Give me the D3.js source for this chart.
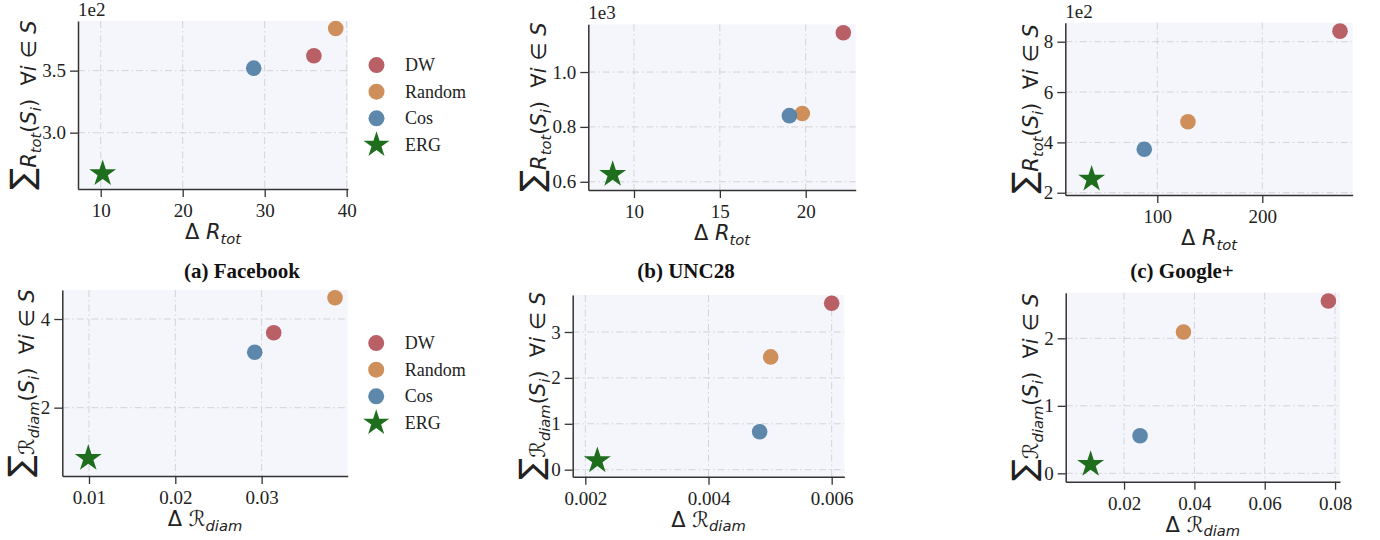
<!DOCTYPE html>
<html>
<head>
<meta charset="utf-8">
<script src="https://cdnjs.cloudflare.com/ajax/libs/d3/7.8.5/d3.min.js"></script>
<style>
  body { margin: 0; background: #fff; }
  svg { display: block; }
</style>
</head>
<body>
<script>
// methods and their colours
var methods = ["DW", "Random", "Cos", "ERG"];
var methodColors = ["#b5565e", "#cc8952", "#5482a8", "#1e6e1e"];

// total effective resistance (x = delta, y = sum over S)
var fbTotX = [36.0, 38.66, 28.66, 10.24];
var fbTotY = [362, 384, 352, 267];
var uncTotX = [22.19, 19.80, 19.05, 8.76];
var uncTotY = [1143, 849, 841, 627];
var gpTotX = [274, 129.2, 87.6, 37.5];
var gpTotY = [842, 482, 373, 254];

// diameter
var fbDiamX = [0.0314, 0.0385, 0.0292, 0.00992];
var fbDiamY = [3.69, 4.48, 3.25, 0.858];
var uncDiamX = [0.0060, 0.00501, 0.00483, 0.002195];
var uncDiamY = [3.625, 2.457, 0.826, 0.196];
var gpDiamX = [0.0781, 0.0369, 0.02455, 0.0105];
var gpDiamY = [2.553, 2.093, 0.557, 0.133];

// tick values
var fbTotXTicks = [10, 20, 30, 40], fbTotYTicks = [300, 350];
var uncTotXTicks = [10, 15, 20], uncTotYTicks = [600, 800, 1000];
var gpTotXTicks = [100, 200], gpTotYTicks = [200, 400, 600, 800];
var fbDiamXTicks = [0.01, 0.02, 0.03], fbDiamYTicks = [2, 4];
var uncDiamXTicks = [0.002, 0.004, 0.006], uncDiamYTicks = [0, 1, 2, 3];
var gpDiamXTicks = [0.02, 0.04, 0.06, 0.08], gpDiamYTicks = [0, 1, 2];

var subtitles = ["(a) Facebook", "(b) UNC28", "(c) Google+"];

var serif = "'Liberation Serif', 'Times New Roman', serif";
var sans = "'DejaVu Sans', sans-serif";
var labelSize = 21;

var svg = d3.select("body").append("svg")
  .attr("width", 1380)
  .attr("height", 540);

var panels = [
  { xs: fbTotX, ys: fbTotY, box: [78, 21, 348, 189], xd: [7.23, 40.16], yd: [254.6, 390],
    xt: fbTotXTicks, yt: fbTotYTicks, xf: d3.format("d"), yf: function(d) { return (d / 100).toFixed(1); },
    off: "1e2", kind: "tot", lx: 36, legend: true },
  { xs: uncTotX, ys: uncTotY, box: [588.3, 24.3, 855.7, 190], xd: [7.34, 22.91], yd: [570, 1174],
    xt: uncTotXTicks, yt: uncTotYTicks, xf: d3.format("d"), yf: function(d) { return (d / 1000).toFixed(1); },
    off: "1e3", kind: "tot", lx: 546 },
  { xs: gpTotX, ys: gpTotY, box: [1065.3, 22.7, 1352.7, 195], xd: [12.4, 286.1], yd: [191, 875.5],
    xt: gpTotXTicks, yt: gpTotYTicks, xf: d3.format("d"), yf: function(d) { return d / 100; },
    off: "1e2", kind: "tot", lx: 1038 },
  { xs: fbDiamX, ys: fbDiamY, box: [62.3, 290, 347.7, 476], xd: [0.00691, 0.03997], yd: [0.458, 4.655],
    xt: fbDiamXTicks, yt: fbDiamYTicks, xf: d3.format(".2f"), yf: d3.format("d"),
    kind: "diam", lx: 34, legend: true },
  { xs: uncDiamX, ys: uncDiamY, box: [572.7, 295, 844.3, 476.7], xd: [0.001795, 0.006205], yd: [-0.153, 3.806],
    xt: uncDiamXTicks, yt: uncDiamYTicks, xf: d3.format(".3f"), yf: d3.format("d"),
    kind: "diam", lx: 545 },
  { xs: gpDiamX, ys: gpDiamY, box: [1065.7, 292.7, 1340, 481.7], xd: [0.00341, 0.0814], yd: [-0.124, 2.676],
    xt: gpDiamXTicks, yt: gpDiamYTicks, xf: d3.format(".2f"), yf: d3.format("d"),
    kind: "diam", lx: 1038 }
];

// write a mathtext-like label made of pieces
function mathText(sel, parts, size) {
  sel.style("white-space", "pre");
  var shift = 0;
  parts.forEach(function(p) {
    var ts = sel.append("tspan").text(p.t);
    var fs = p.sub ? size * 0.7 : (p.big ? size * p.big : size);
    ts.attr("font-size", fs);
    if (p.it) ts.attr("font-style", "italic");
    var want = p.sub ? size * 0.22 : (p.dy || 0) * size;
    ts.attr("dy", want - shift);
    shift = want;
  });
}

function yParts(kind) {
  var main = kind == "tot" ? { t: "R", it: true } : { t: "\u211B" };
  return [
    { t: "\u2211", big: 1.55, dy: -0.12 },
    main,
    { t: kind, it: true, sub: true },
    { t: "(" }, { t: "S", it: true }, { t: "i", it: true, sub: true },
    { t: ")  \u2200" }, { t: "i", it: true }, { t: " \u2208 " }, { t: "S", it: true }
  ];
}

function xParts(kind) {
  var main = kind == "tot" ? { t: "R", it: true } : { t: "\u211B" };
  return [{ t: "\u0394 " }, main, { t: kind, it: true, sub: true }];
}

var star = d3.symbol().type(d3.symbolStar).size(225);
var starSmall = d3.symbol().type(d3.symbolStar).size(210);

panels.forEach(function(p) {
  var L = p.box[0], T = p.box[1], R = p.box[2], B = p.box[3];
  var x = d3.scaleLinear().domain(p.xd).range([L, R]);
  var y = d3.scaleLinear().domain(p.yd).range([B, T]);
  var g = svg.append("g");

  g.append("rect")
    .attr("x", L).attr("y", T)
    .attr("width", R - L).attr("height", B - T)
    .attr("fill", "#f5f6fc");

  // dash-dot grid
  g.selectAll(".gx").data(p.xt).enter().append("line")
    .attr("x1", function(d) { return x(d); }).attr("x2", function(d) { return x(d); })
    .attr("y1", T).attr("y2", B)
    .attr("stroke", "#d3d3d6").attr("stroke-width", 1)
    .attr("stroke-dasharray", "7,3,1.5,3");
  g.selectAll(".gy").data(p.yt).enter().append("line")
    .attr("y1", function(d) { return y(d); }).attr("y2", function(d) { return y(d); })
    .attr("x1", L).attr("x2", R)
    .attr("stroke", "#d3d3d6").attr("stroke-width", 1)
    .attr("stroke-dasharray", "7,3,1.5,3");

  var xa = g.append("g").attr("transform", "translate(0," + B + ")")
    .call(d3.axisBottom(x).tickValues(p.xt).tickFormat(p.xf).tickSize(8).tickSizeOuter(0).tickPadding(7));
  var ya = g.append("g").attr("transform", "translate(" + L + ",0)")
    .call(d3.axisLeft(y).tickValues(p.yt).tickFormat(p.yf).tickSize(8).tickSizeOuter(0).tickPadding(4));
  [xa, ya].forEach(function(a) {
    a.select(".domain").attr("stroke", "#333").attr("stroke-width", 1.5);
    a.selectAll(".tick line").attr("stroke", "#333").attr("stroke-width", 1.3);
    a.selectAll(".tick text").attr("font-family", serif).attr("font-size", 19).attr("fill", "#222");
  });

  // points
  var pts = methods.map(function(m, i) { return { m: m, i: i, x: p.xs[i], y: p.ys[i] }; });
  g.selectAll(".pt").data(pts.filter(function(d) { return d.m != "ERG"; })).enter().append("circle")
    .attr("cx", function(d) { return x(d.x); })
    .attr("cy", function(d) { return y(d.y); })
    .attr("r", 7.8)
    .attr("fill", function(d) { return methodColors[d.i]; })
    .attr("fill-opacity", 0.95);
  g.selectAll(".st").data(pts.filter(function(d) { return d.m == "ERG"; })).enter().append("path")
    .attr("d", star)
    .attr("transform", function(d) { return "translate(" + x(d.x) + "," + y(d.y) + ")"; })
    .attr("fill", methodColors[3]);

  if (p.off) {
    g.append("text").attr("x", L).attr("y", T - 5)
      .attr("font-family", serif).attr("font-size", 19).attr("fill", "#222")
      .text(p.off);
  }

  // axis labels
  var xl = g.append("text")
    .attr("x", (L + R) / 2).attr("y", B + 50)
    .attr("text-anchor", "middle")
    .attr("font-family", sans).attr("fill", "#222");
  mathText(xl, xParts(p.kind), labelSize);

  var yl = g.append("text")
    .attr("transform", "translate(" + p.lx + "," + (T + B) / 2 + ") rotate(-90)")
    .attr("text-anchor", "middle")
    .attr("font-family", sans).attr("fill", "#222");
  mathText(yl, yParts(p.kind), labelSize);

  if (p.legend) {
    var cy = (T + B) / 2;
    var lg = g.append("g");
    methods.forEach(function(m, i) {
      var ry = cy + (i - 1.5) * 26.6;
      if (m == "ERG") {
        lg.append("path").attr("d", starSmall)
          .attr("transform", "translate(" + (R + 28.5) + "," + ry + ")")
          .attr("fill", methodColors[i]);
      } else {
        lg.append("circle").attr("cx", R + 28.5).attr("cy", ry).attr("r", 8)
          .attr("fill", methodColors[i]).attr("fill-opacity", 0.95);
      }
      lg.append("text").attr("x", R + 57).attr("y", ry)
        .attr("dominant-baseline", "central")
        .attr("font-family", serif).attr("font-size", 18).attr("fill", "#222")
        .text(m);
    });
  }
});

// subcaptions between the rows
var capX = [242, 686, 1182];
svg.selectAll(".cap").data(subtitles).enter().append("text")
  .attr("x", function(d, i) { return capX[i]; })
  .attr("y", 278)
  .attr("text-anchor", "middle")
  .attr("font-family", serif).attr("font-weight", "bold").attr("font-size", 21)
  .attr("fill", "#111")
  .text(function(d) { return d; });
</script>
</body>
</html>
